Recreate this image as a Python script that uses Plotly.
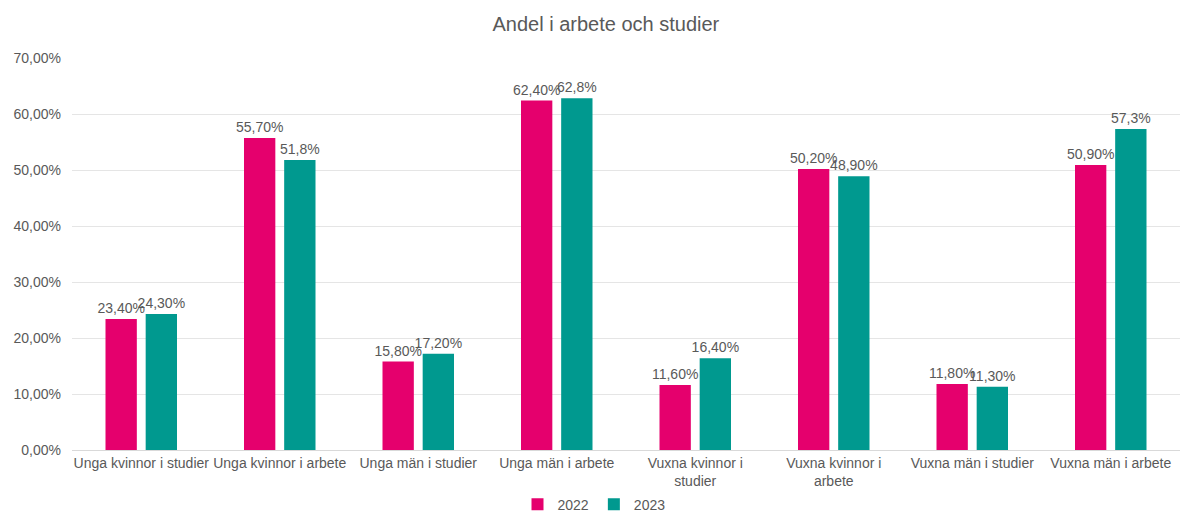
import plotly.graph_objects as go

categories = [
    "Unga kvinnor i studier",
    "Unga kvinnor i arbete",
    "Unga män i studier",
    "Unga män i arbete",
    "Vuxna kvinnor i<br>studier",
    "Vuxna kvinnor i<br>arbete",
    "Vuxna män i studier",
    "Vuxna män i arbete",
]
values_2022 = [23.4, 55.7, 15.8, 62.4, 11.6, 50.2, 11.8, 50.9]
values_2023 = [24.3, 51.8, 17.2, 62.8, 16.4, 48.9, 11.3, 57.3]
labels_2022 = ["23,40%", "55,70%", "15,80%", "62,40%", "11,60%", "50,20%", "11,80%", "50,90%"]
labels_2023 = ["24,30%", "51,8%", "17,20%", "62,8%", "16,40%", "48,90%", "11,30%", "57,3%"]

PINK = "#E5006D"
TEAL = "#00998F"
GREY = "#595959"
FONT = "Liberation Sans, Arial, sans-serif"

fig = go.Figure()
for name, vals, labels, color in [
    ("2022", values_2022, labels_2022, PINK),
    ("2023", values_2023, labels_2023, TEAL),
]:
    fig.add_trace(go.Bar(
        name=name,
        x=categories,
        y=vals,
        text=labels,
        textposition="outside",
        constraintext="none",
        cliponaxis=False,
        textfont=dict(family=FONT, size=14, color=GREY),
        marker=dict(color=color, line=dict(width=0)),
        hoverinfo="skip",
    ))

fig.update_layout(
    width=1188,
    height=518,
    margin=dict(l=72, r=8, t=58, b=68),
    paper_bgcolor="white",
    plot_bgcolor="white",
    separators=",.",
    barmode="group",
    bargap=0.42,
    bargroupgap=0.22,
    font=dict(family=FONT, size=14, color=GREY),
    title=dict(
        text="Andel i arbete och studier",
        x=0.51, xanchor="center",
        y=0.953, yanchor="middle",
        xref="container", yref="container",
        font=dict(family=FONT, size=20, color=GREY),
    ),
    legend=dict(
        orientation="h",
        x=0.5, xanchor="center",
        xref="container", yref="container",
        y=0.026, yanchor="middle",
        font=dict(family=FONT, size=14, color=GREY),
        itemwidth=30,
        tracegroupgap=0,
    ),
    xaxis=dict(
        automargin=False,
        showgrid=False,
        showline=True,
        linecolor="#D9D9D9",
        linewidth=1,
        ticks="",
        tickfont=dict(family=FONT, size=14, color=GREY),
    ),
    yaxis=dict(
        automargin=False,
        range=[0, 70],
        dtick=10,
        tickformat=".2f",
        ticksuffix="%",
        showgrid=True,
        gridcolor="#E5E5E5",
        gridwidth=1,
        zeroline=False,
        showline=False,
        ticks="",
        ticklabelstandoff=10,
        tickfont=dict(family=FONT, size=14, color=GREY),
    ),
)

fig.write_html("out.html")
